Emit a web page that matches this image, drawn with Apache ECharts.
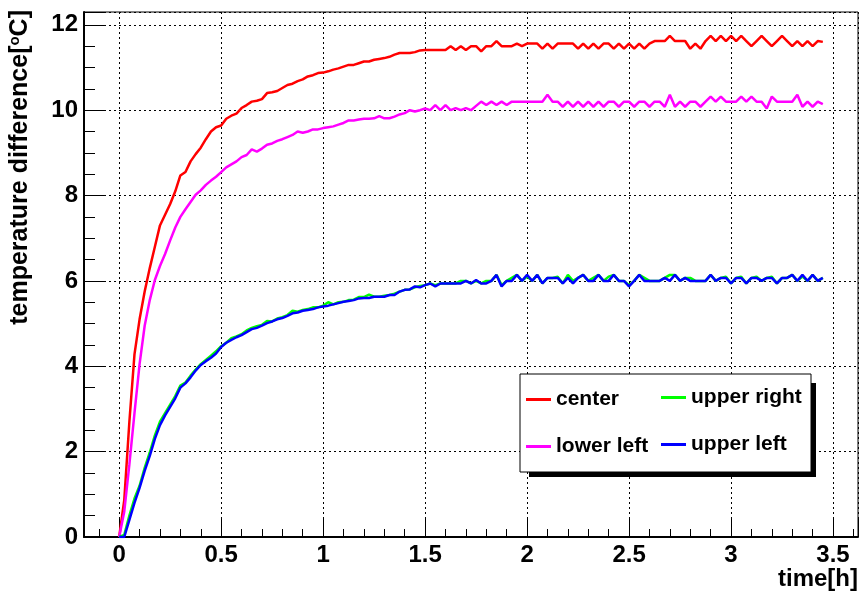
<!DOCTYPE html>
<html>
<head>
<meta charset="utf-8">
<script src="https://cdn.jsdelivr.net/npm/echarts@6/dist/echarts.min.js"></script>
<style>
  html, body { margin: 0; padding: 0; background: #fff; }
  #main { width: 862px; height: 592px; }
</style>
</head>
<body>
<div id="main"></div>
<script>
  // sample times [h]
  var times = [
    0, 0.025, 0.05, 0.075, 0.1, 0.125, 0.15, 0.175, 0.2, 0.225,
    0.25, 0.275, 0.3, 0.325, 0.35, 0.375, 0.4, 0.425, 0.45, 0.475,
    0.5, 0.525, 0.55, 0.575, 0.6, 0.625, 0.65, 0.675, 0.7, 0.725,
    0.75, 0.775, 0.8, 0.825, 0.85, 0.875, 0.9, 0.925, 0.95, 0.975,
    1, 1.025, 1.05, 1.075, 1.1, 1.125, 1.15, 1.175, 1.2, 1.225,
    1.25, 1.275, 1.3, 1.325, 1.35, 1.375, 1.4, 1.425, 1.45, 1.475,
    1.5, 1.525, 1.55, 1.575, 1.6, 1.625, 1.65, 1.675, 1.7, 1.725,
    1.75, 1.775, 1.8, 1.825, 1.85, 1.875, 1.9, 1.925, 1.95, 1.975,
    2, 2.025, 2.05, 2.075, 2.1, 2.125, 2.15, 2.175, 2.2, 2.225,
    2.25, 2.275, 2.3, 2.325, 2.35, 2.375, 2.4, 2.425, 2.45, 2.475,
    2.5, 2.525, 2.55, 2.575, 2.6, 2.625, 2.65, 2.675, 2.7, 2.725,
    2.75, 2.775, 2.8, 2.825, 2.85, 2.875, 2.9, 2.925, 2.95, 2.975,
    3, 3.025, 3.05, 3.075, 3.1, 3.125, 3.15, 3.175, 3.2, 3.225,
    3.25, 3.275, 3.3, 3.325, 3.35, 3.375, 3.4, 3.425, 3.45
  ];

  var center = [
    0, 0.87, 2.7, 4.28, 5.1, 5.75, 6.3, 6.8, 7.3, 7.55,
    7.8, 8.1, 8.47, 8.55, 8.8, 8.97, 9.12, 9.32, 9.5, 9.6,
    9.64, 9.8, 9.87, 9.92, 10.05, 10.12, 10.2, 10.22, 10.26, 10.4,
    10.42, 10.45, 10.52, 10.59, 10.62, 10.68, 10.72, 10.79, 10.82, 10.87,
    10.88, 10.91, 10.95, 10.98, 11.02, 11.06, 11.06, 11.1, 11.14, 11.14,
    11.18, 11.2, 11.22, 11.25, 11.3, 11.34, 11.34, 11.34, 11.36, 11.4,
    11.41, 11.41, 11.41, 11.41, 11.41, 11.5, 11.41, 11.5, 11.41, 11.5,
    11.5, 11.38, 11.5, 11.5, 11.62, 11.5, 11.5, 11.5, 11.56, 11.5,
    11.56, 11.56, 11.56, 11.44, 11.56, 11.44, 11.56, 11.56, 11.56, 11.56,
    11.44, 11.56, 11.44, 11.56, 11.44, 11.56, 11.56, 11.44, 11.56, 11.44,
    11.56, 11.44, 11.56, 11.44, 11.56, 11.62, 11.62, 11.62, 11.74, 11.62,
    11.62, 11.62, 11.44, 11.56, 11.44, 11.62, 11.74, 11.62, 11.74, 11.62,
    11.74, 11.62, 11.74, 11.62, 11.5, 11.62, 11.74, 11.62, 11.5, 11.62,
    11.74, 11.62, 11.5, 11.62, 11.5, 11.62, 11.5, 11.62, 11.6
  ];

  var lowerLeft = [
    0, 0.6, 1.7, 2.9, 4.05, 4.95, 5.55, 6.02, 6.35, 6.63,
    6.95, 7.25, 7.5, 7.68, 7.85, 8.02, 8.12, 8.25, 8.35, 8.44,
    8.55, 8.66, 8.73, 8.8, 8.9, 8.95, 9.08, 9.03, 9.1, 9.19,
    9.22, 9.28, 9.32, 9.37, 9.42, 9.5, 9.47, 9.5, 9.55, 9.55,
    9.58, 9.6, 9.62, 9.66, 9.7, 9.76, 9.76, 9.78, 9.8, 9.8,
    9.81, 9.86, 9.81, 9.81, 9.85, 9.9, 9.93, 10.0, 9.97, 10.0,
    10.04, 10.0, 10.12, 10.0, 10.12, 10.0, 10.05, 10.0, 10.05, 10.0,
    10.1, 10.2, 10.12, 10.2, 10.12, 10.2, 10.12, 10.2, 10.2, 10.2,
    10.2, 10.2, 10.2, 10.2, 10.36, 10.2, 10.2, 10.08, 10.2, 10.08,
    10.2, 10.08, 10.2, 10.08, 10.2, 10.08, 10.2, 10.2, 10.08, 10.2,
    10.2, 10.08, 10.2, 10.2, 10.08, 10.2, 10.2, 10.08, 10.36, 10.08,
    10.2, 10.08, 10.2, 10.2, 10.08, 10.2, 10.32, 10.2, 10.32, 10.2,
    10.2, 10.2, 10.32, 10.2, 10.32, 10.2, 10.2, 10.04, 10.32, 10.2,
    10.2, 10.2, 10.2, 10.36, 10.08, 10.2, 10.08, 10.2, 10.14
  ];

  var upperRight = [
    0, 0.05, 0.5, 0.9, 1.2, 1.62, 1.98, 2.38, 2.7, 2.9,
    3.1, 3.3, 3.55, 3.62, 3.78, 3.92, 4.05, 4.15, 4.25, 4.35,
    4.47, 4.55, 4.66, 4.7, 4.75, 4.84, 4.9, 4.94, 4.97, 5.06,
    5.05, 5.12, 5.15, 5.2, 5.3, 5.28, 5.32, 5.34, 5.38, 5.38,
    5.42, 5.5, 5.45, 5.5, 5.51, 5.55, 5.56, 5.62, 5.62, 5.68,
    5.63, 5.63, 5.65, 5.67, 5.7, 5.75, 5.79, 5.8, 5.85, 5.88,
    5.9, 5.94, 5.9, 5.94, 5.94, 5.94, 5.94, 6.0, 6.0, 5.94,
    6.0, 5.94, 6.0, 6.0, 6.14, 5.9, 6.0, 6.07, 6.14, 6.0,
    6.1, 6.0, 6.14, 5.94, 6.07, 6.07, 6.1, 5.94, 6.14, 6.0,
    6.07, 6.14, 6.0, 6.07, 6.14, 6.0, 6.1, 6.14, 6.0, 6.0,
    5.9, 6.0, 6.14, 6.07, 6.0, 6.0, 6.0, 6.07, 6.14, 6.14,
    6.0, 6.07, 6.07, 6.0, 6.0, 6.0, 6.14, 6.0, 6.07, 6.1,
    5.94, 6.07, 6.1, 5.94, 6.07, 6.1, 6.0, 6.07, 6.1, 5.94,
    6.07, 6.07, 6.14, 6.0, 6.1, 6.0, 6.14, 6.0, 6.07
  ];

  var upperLeft = [
    0, 0, 0.4, 0.8, 1.15, 1.55, 1.9, 2.3, 2.62, 2.85,
    3.05, 3.25, 3.5, 3.6, 3.74, 3.9, 4.03, 4.12, 4.2, 4.3,
    4.45, 4.55, 4.62, 4.68, 4.73, 4.8, 4.87, 4.9, 4.95, 5.01,
    5.05, 5.1, 5.13, 5.18, 5.24, 5.26, 5.3, 5.32, 5.34, 5.38,
    5.4, 5.42, 5.45, 5.48, 5.51, 5.53, 5.55, 5.59, 5.6, 5.6,
    5.63, 5.63, 5.63, 5.67, 5.67, 5.75, 5.79, 5.8, 5.87, 5.85,
    5.9, 5.94, 5.87, 5.94, 5.94, 5.94, 5.94, 5.94, 6.0, 5.94,
    6.02, 5.94, 5.94, 6.0, 6.14, 5.87, 6.0, 6.0, 6.14, 6.0,
    6.14, 6.0, 6.14, 5.94, 6.07, 6.07, 6.07, 5.94, 6.07, 5.94,
    6.07, 6.14, 6.0, 6.0, 6.14, 6.0, 6.0, 6.14, 6.0, 6.0,
    5.87, 6.0, 6.14, 6.0, 6.0, 6.0, 6.0, 6.07, 6.0, 6.14,
    6.0, 6.07, 6.0, 6.0, 6.0, 6.0, 6.14, 6.0, 6.07, 6.07,
    5.94, 6.07, 6.07, 5.94, 6.07, 6.07, 6.0, 6.07, 6.07, 5.94,
    6.07, 6.07, 6.14, 6.0, 6.14, 6.0, 6.14, 6.0, 6.07
  ];

  var FONT = '"Liberation Sans", Arial, Helvetica, sans-serif';

  function pairs(vals) {
    return times.map(function (t, i) { return [t, vals[i]] })
  }

  function makeSeries(name, vals, color) {
    return {
      name: name,
      type: 'line',
      data: pairs(vals),
      symbol: 'none',
      showSymbol: false,
      color: color,
      lineStyle: { color: color, width: 2.5 },
      z: 3
    }
  }

  var legendText = { color: '#000', fontFamily: FONT, fontWeight: 'bold', fontSize: 21 }

  var myChart = echarts.init(document.getElementById('main'), null, { renderer: 'canvas' })
  myChart.setOption({
    animation: false,
    backgroundColor: '#fff',
    grid: {
      left: 84, right: 4, top: 12, bottom: 55,
      show: true, borderColor: '#000', borderWidth: 1, backgroundColor: 'transparent',
      containLabel: false
    },
    xAxis: {
      type: 'value',
      min: -0.1725,
      max: 3.6225,
      splitNumber: 7,
      axisLine: { onZero: false, lineStyle: { color: '#000', width: 2 } },
      axisTick: { inside: true, length: 19, lineStyle: { color: '#000', width: 1 } },
      minorTick: { show: true, splitNumber: 5, length: 8, lineStyle: { color: '#000', width: 1 } },
      splitLine: { show: true, lineStyle: { color: '#000', width: 1, type: [2, 3] } },
      axisLabel: {
        showMinLabel: false, showMaxLabel: false, margin: 6,
        color: '#000', fontFamily: FONT, fontWeight: 'bold', fontSize: 24,
        formatter: function (v) {
          return Math.abs(v * 2 - Math.round(v * 2)) < 1e-6 ? String(v) : ''
        }
      }
    },
    yAxis: {
      type: 'value',
      min: 0,
      max: 12.3,
      interval: 2,
      axisLine: { show: true, onZero: false, lineStyle: { color: '#000', width: 2 } },
      axisTick: { show: true, inside: true, length: 22, lineStyle: { color: '#000', width: 1 } },
      minorTick: { show: true, splitNumber: 4, length: 11, lineStyle: { color: '#000', width: 1 } },
      splitLine: { show: true, lineStyle: { color: '#000', width: 1, type: [2, 3] } },
      axisLabel: {
        showMaxLabel: false, margin: 6,
        color: '#000', fontFamily: FONT, fontWeight: 'bold', fontSize: 24,
        formatter: function (v) {
          return Math.abs(v / 2 - Math.round(v / 2)) < 1e-6 ? String(v) : ''
        }
      }
    },
    legend: [{
      data: ['center', 'lower left'],
      orient: 'vertical',
      left: 526, top: 389, padding: 0,
      icon: 'rect', itemWidth: 25, itemHeight: 3, itemGap: 26,
      textStyle: legendText,
      z: 20
    }, {
      data: ['upper right', 'upper left'],
      orient: 'vertical',
      left: 661, top: 387, padding: 0,
      icon: 'rect', itemWidth: 25, itemHeight: 3, itemGap: 26,
      textStyle: legendText,
      z: 20
    }],
    graphic: [
      { type: 'rect', z: 10, shape: { x: 529, y: 383, width: 287, height: 94 }, style: { fill: '#000' } },
      { type: 'rect', z: 11, shape: { x: 520, y: 374, width: 291, height: 98 }, style: { fill: '#fff', stroke: '#000', lineWidth: 1 } },
      {
        type: 'text', z: 12, x: 20, y: 10, rotation: Math.PI / 2,
        style: {
          text: 'temperature difference[{sup|o}C]',
          fill: '#000', font: 'bold 25px ' + FONT,
          align: 'right', verticalAlign: 'middle',
          rich: { sup: { fontSize: 15, fontWeight: 'bold', fontFamily: FONT, fill: '#000', padding: [0, 0, 10, 0] } }
        }
      },
      {
        type: 'text', z: 12, x: 858, y: 579,
        style: {
          text: 'time[h]', fill: '#000', font: 'bold 24px ' + FONT,
          align: 'right', verticalAlign: 'middle'
        }
      }
    ],
    series: [
      makeSeries('center', center, '#ff0000'),
      makeSeries('lower left', lowerLeft, '#ff00ff'),
      makeSeries('upper right', upperRight, '#00ff00'),
      makeSeries('upper left', upperLeft, '#0000ff')
    ]
  })
</script>
</body>
</html>
